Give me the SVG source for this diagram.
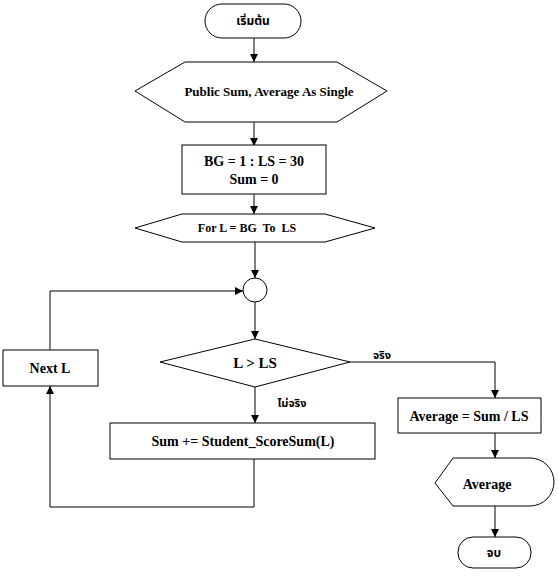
<svg xmlns="http://www.w3.org/2000/svg" width="558" height="580" viewBox="0 0 558 580">
<defs>
<marker id="ah" viewBox="0 0 8 8" refX="8" refY="4" markerWidth="8" markerHeight="8" markerUnits="userSpaceOnUse" orient="auto">
<path d="M0,0 L8,4 L0,8 Z" fill="#000"/>
</marker>
<style>
.s{fill:#fff;stroke:#000;stroke-width:1}
.c{fill:none;stroke:#000;stroke-width:1;marker-end:url(#ah)}
.t{font-family:"Liberation Serif","Times New Roman",serif;font-weight:bold;fill:#000;text-anchor:middle;white-space:pre}
.th{font-family:"Liberation Serif","Noto Sans Thai","Noto Serif Thai",serif;font-weight:bold;fill:#000;text-anchor:middle}
</style>
</defs>
<rect width="558" height="580" fill="#fff"/>
<g id="connectors">
<path class="c" d="M254,38 V62"/>
<path class="c" d="M254,122 V146"/>
<path class="c" d="M254,194 V214"/>
<path class="c" d="M255,242 V278"/>
<path class="c" d="M255,302 V339"/>
<path class="c" d="M350,362 H495 V398"/>
<path class="c" d="M255,387 V423"/>
<path class="c" d="M254,459 V507 H50 V386"/>
<path class="c" d="M50,350 V291 H243"/>
<path class="c" d="M495,433 V458"/>
<path class="c" d="M495,506 V537"/>
</g>
<g id="start">
<rect class="s" x="205" y="4" width="96" height="34" rx="17" ry="17"/>
<text class="th" x="253" y="25" font-size="12">เริ่มต้น</text>
</g>
<g id="declare">
<polygon class="s" points="135,91 185,62 337,62 387,91 337,122 185,122"/>
<text class="t" x="269" y="96" font-size="13">Public Sum, Average As Single</text>
</g>
<g id="init">
<rect class="s" x="182" y="145" width="144" height="49"/>
<text class="t" x="254" y="166" font-size="14">BG = 1 : LS = 30</text>
<text class="t" x="254" y="184" font-size="14">Sum = 0</text>
</g>
<g id="forloop">
<polygon class="s" points="135,228 182,214 325,214 375,228 325,242 182,242"/>
<text class="t" x="247" y="232" font-size="12" xml:space="preserve">For L = BG  To  LS</text>
</g>
<g id="connector">
<circle class="s" cx="255" cy="290" r="12"/>
</g>
<g id="decision">
<polygon class="s" points="160,362 255,339 350,362 255,387"/>
<text class="t" x="255" y="368" font-size="15">L &gt; LS</text>
</g>
<g id="true-label">
<text class="th" x="382" y="359" font-size="11">จริง</text>
</g>
<g id="false-label">
<text class="th" x="292" y="407" font-size="11">ไม่จริง</text>
</g>
<g id="accumulate">
<rect class="s" x="110" y="423" width="265" height="36"/>
<text class="t" x="243" y="446" font-size="14">Sum += Student_ScoreSum(L)</text>
</g>
<g id="nextL">
<rect class="s" x="3" y="350" width="95" height="36"/>
<text class="t" x="50" y="373" font-size="14">Next L</text>
</g>
<g id="average-calc">
<rect class="s" x="398" y="398" width="143" height="35"/>
<text class="t" x="469" y="421" font-size="14">Average = Sum / LS</text>
</g>
<g id="display">
<path class="s" d="M435,483 L453,458 H530 A24,24 0 0 1 530,506 H453 Z"/>
<text class="t" x="487" y="489" font-size="14">Average</text>
</g>
<g id="end">
<rect class="s" x="458" y="537" width="73" height="31" rx="15" ry="15"/>
<text class="th" x="494" y="557" font-size="12">จบ</text>
</g>
</svg>
